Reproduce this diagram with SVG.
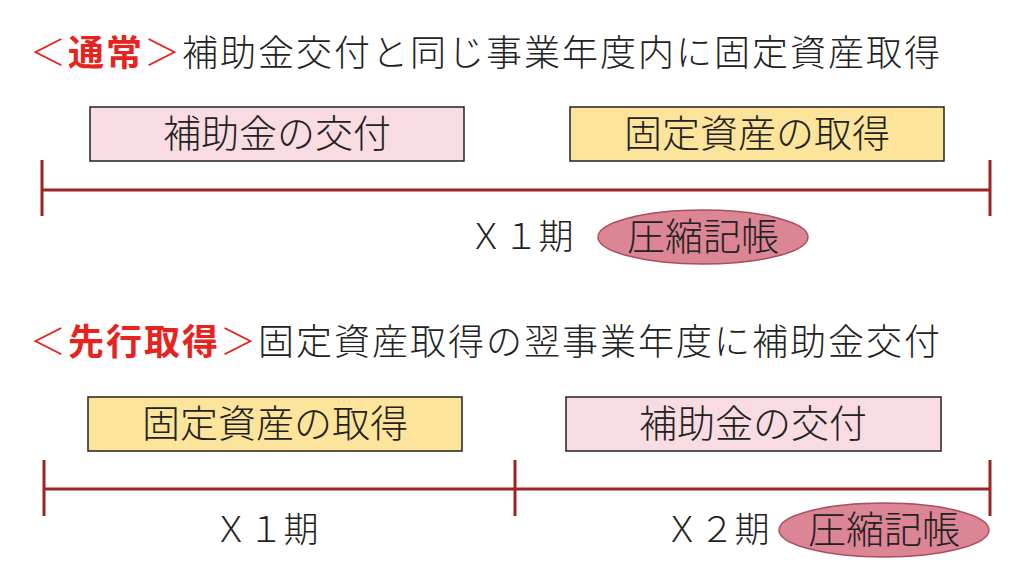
<svg xmlns="http://www.w3.org/2000/svg" width="1024" height="576" viewBox="0 0 1024 576">
<style>
text{font-family:"Noto Sans CJK JP","Noto Sans",sans-serif;fill:#222;font-weight:300}
.title{font-size:36px;letter-spacing:2px}
.red{fill:#E8231E}
.b{font-weight:bold}
.lbl{font-size:38px;text-anchor:middle}
.per{font-size:35px;text-anchor:middle}
.pink{fill:#F8DCE1;stroke:#222;stroke-width:1.5}
.yel{fill:#FCE49A;stroke:#222;stroke-width:1.5}
.ell{fill:#DC8595;stroke:#A8505F;stroke-width:1.5}
.tl{stroke:#9B2424;stroke-width:3;fill:none}
</style>
<rect width="1024" height="576" fill="#fff"/>
<g id="title1"><text class="title" x="30" y="66"><tspan class="red">＜</tspan><tspan class="red b">通常</tspan><tspan class="red">＞</tspan>補助金交付と同じ事業年度内に固定資産取得</text></g>
<g id="title2"><text class="title" x="30" y="355"><tspan class="red">＜</tspan><tspan class="red b">先行取得</tspan><tspan class="red">＞</tspan>固定資産取得の翌事業年度に補助金交付</text></g>
<g id="connectors">
<path class="tl" d="M42 190H990M42 160V216M990 160V216"/>
<path class="tl" d="M44 489H990M44 460V516M515 460V516M990 460V516"/>
</g>
<g id="n1"><rect class="pink" x="90" y="107" width="374" height="54"/><text class="lbl" x="277" y="147">補助金の交付</text></g>
<g id="n2"><rect class="yel" x="570" y="107" width="374" height="54"/><text class="lbl" x="757" y="147">固定資産の取得</text></g>
<g id="p1"><text class="per" x="521" y="249">Ｘ１期</text></g>
<g id="e1"><ellipse class="ell" cx="703" cy="237" rx="105" ry="27"/><text class="lbl" x="703" y="250">圧縮記帳</text></g>
<g id="n3"><rect class="yel" x="88" y="397" width="374" height="54"/><text class="lbl" x="275" y="437">固定資産の取得</text></g>
<g id="n4"><rect class="pink" x="566" y="397" width="375" height="54"/><text class="lbl" x="753" y="437">補助金の交付</text></g>
<g id="p2"><text class="per" x="266" y="542">Ｘ１期</text></g>
<g id="p3"><text class="per" x="717" y="542">Ｘ２期</text></g>
<g id="e2"><ellipse class="ell" cx="884" cy="530" rx="105" ry="27"/><text class="lbl" x="884" y="543">圧縮記帳</text></g>
</svg>
